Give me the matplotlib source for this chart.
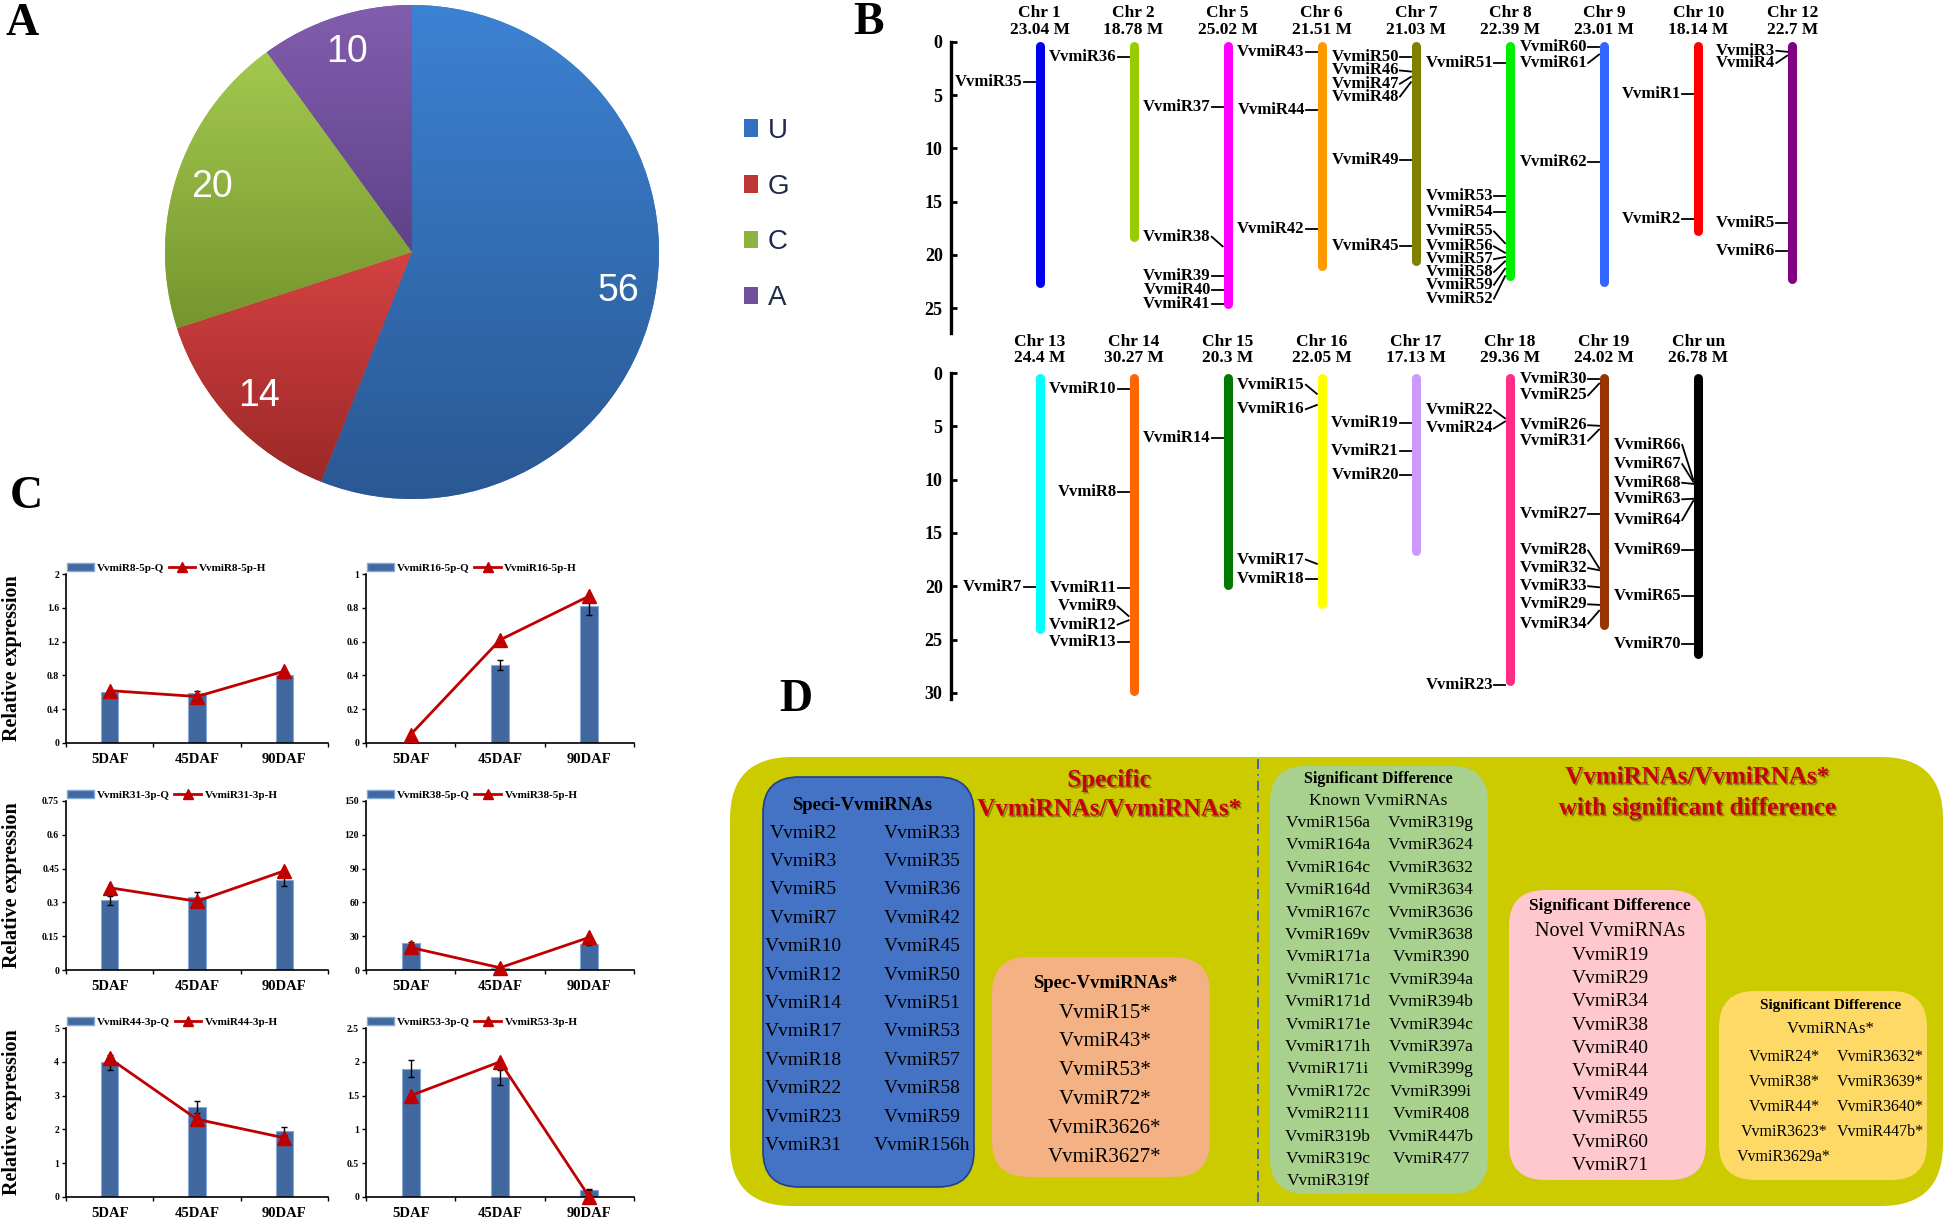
import numpy as np
import matplotlib
matplotlib.use('Agg')
import matplotlib.pyplot as plt
from matplotlib.patches import FancyBboxPatch, Patch
from matplotlib.lines import Line2D
from matplotlib.colors import to_rgb
import matplotlib.patheffects as pe

plt.rcParams['font.family'] = ['Liberation Serif', 'DejaVu Serif']

# ---------------- data: panel A ----------------
pie_labels = ['U', 'G', 'C', 'A']
pie_values = [56, 14, 20, 10]
pie_colors = ['#3470c0', '#bd3535', '#8db342', '#70509a']
pie_light = ['#3c82d3', '#d44242', '#a3c94f', '#825dae']
pie_dark = ['#2a5893', '#9c2828', '#76952e', '#5f4288']

# ---------------- data: panel B ----------------
top_chr = ['Chr 1', 'Chr 2', 'Chr 5', 'Chr 6', 'Chr 7', 'Chr 8', 'Chr 9', 'Chr 10', 'Chr 12']
top_len = [23.04, 18.78, 25.02, 21.51, 21.03, 22.39, 23.01, 18.14, 22.7]
top_col = ['#0000ee', '#99cc00', '#ff00ff', '#ff9900', '#808000', '#00ee00', '#3366ff', '#ff0000', '#800080']
bot_chr = ['Chr 13', 'Chr 14', 'Chr 15', 'Chr 16', 'Chr 17', 'Chr 18', 'Chr 19', 'Chr un']
bot_len = [24.4, 30.27, 20.3, 22.05, 17.13, 29.36, 24.02, 26.78]
bot_col = ['#00ffff', '#ff6600', '#007a00', '#ffff00', '#cc99ff', '#ff2d86', '#993300', '#000000']

top_mk_chr = [0, 1, 2, 2, 2, 2, 2, 3, 3, 3, 4, 4, 4, 4, 4, 4,
              5, 5, 5, 5, 5, 5, 5, 5, 5, 6, 6, 6, 7, 7, 8, 8, 8, 8]
top_mk_name = ['VvmiR35', 'VvmiR36', 'VvmiR37', 'VvmiR38', 'VvmiR39', 'VvmiR40', 'VvmiR41',
               'VvmiR43', 'VvmiR44', 'VvmiR42',
               'VvmiR50', 'VvmiR46', 'VvmiR47', 'VvmiR48', 'VvmiR49', 'VvmiR45',
               'VvmiR51', 'VvmiR53', 'VvmiR54', 'VvmiR55', 'VvmiR56', 'VvmiR57', 'VvmiR58', 'VvmiR59', 'VvmiR52',
               'VvmiR60', 'VvmiR61', 'VvmiR62', 'VvmiR1', 'VvmiR2', 'VvmiR3', 'VvmiR4', 'VvmiR5', 'VvmiR6']
top_mk_pos = [3.75, 1.4, 6.15, 19.2, 22.0, 23.3, 24.6,
              0.95, 6.4, 17.6,
              1.45, 2.8, 3.3, 3.8, 11.1, 19.2,
              2.0, 14.5, 16.0, 18.9, 19.8, 20.2, 20.6, 21.3, 22.0,
              0.5, 1.2, 11.3, 4.9, 16.6, 0.95, 1.3, 17.0, 19.6]
top_mk_lab = [3.75, 1.4, 6.15, 18.3, 22.0, 23.3, 24.6,
              0.95, 6.4, 17.6,
              1.45, 2.7, 3.95, 5.15, 11.1, 19.2,
              2.0, 14.5, 16.0, 17.8, 19.2, 20.4, 21.6, 22.8, 24.1,
              0.5, 2.0, 11.3, 4.9, 16.6, 0.85, 2.0, 17.0, 19.6]

bot_mk_chr = [0, 1, 1, 1, 1, 1, 1, 2, 3, 3, 3, 3, 4, 4, 4, 5, 5, 5,
              6, 6, 6, 6, 6, 6, 6, 6, 6, 6, 7, 7, 7, 7, 7, 7, 7, 7]
bot_mk_name = ['VvmiR7', 'VvmiR10', 'VvmiR8', 'VvmiR11', 'VvmiR9', 'VvmiR12', 'VvmiR13',
               'VvmiR14', 'VvmiR15', 'VvmiR16', 'VvmiR17', 'VvmiR18',
               'VvmiR19', 'VvmiR21', 'VvmiR20', 'VvmiR22', 'VvmiR24', 'VvmiR23',
               'VvmiR30', 'VvmiR25', 'VvmiR26', 'VvmiR31', 'VvmiR27', 'VvmiR28', 'VvmiR32', 'VvmiR33',
               'VvmiR29', 'VvmiR34',
               'VvmiR66', 'VvmiR67', 'VvmiR68', 'VvmiR63', 'VvmiR64', 'VvmiR69', 'VvmiR65', 'VvmiR70']
bot_mk_pos = [20.1, 1.5, 11.15, 20.2, 22.8, 23.2, 25.2,
              6.1, 1.95, 3.0, 17.9, 19.3,
              4.65, 7.3, 9.6, 4.25, 4.55, 29.3,
              0.6, 1.0, 4.95, 5.3, 13.25, 18.3, 18.5, 20.1, 21.75, 22.3,
              10.0, 10.2, 10.4, 11.8, 12.0, 16.65, 20.9, 25.45]
bot_mk_lab = [20.1, 1.5, 11.15, 20.2, 21.9, 23.6, 25.2,
              6.1, 1.1, 3.4, 17.5, 19.3,
              4.65, 7.3, 9.6, 3.5, 5.2, 29.3,
              0.6, 2.1, 4.9, 6.35, 13.25, 16.65, 18.3, 20.0, 21.7, 23.5,
              6.75, 8.55, 10.3, 11.85, 13.8, 16.65, 20.9, 25.45]

# ---------------- data: panel C ----------------
daf = ['5DAF', '45DAF', '90DAF']
c_names = ['VvmiR8-5p', 'VvmiR16-5p', 'VvmiR31-3p', 'VvmiR38-5p', 'VvmiR44-3p', 'VvmiR53-3p']
q_vals = [[0.60, 0.59, 0.80], [0.0, 0.46, 0.81], [0.31, 0.325, 0.40],
          [24.0, 1.5, 23.5], [3.98, 2.67, 1.94], [1.90, 1.77, 0.11]]
q_err = [[0.02, 0.03, 0.03], [0.0, 0.03, 0.055], [0.02, 0.02, 0.025],
         [1.0, 0.3, 1.0], [0.22, 0.18, 0.12], [0.12, 0.11, 0.01]]
h_vals = [[0.62, 0.55, 0.85], [0.05, 0.61, 0.87], [0.365, 0.305, 0.44],
          [20.0, 2.0, 29.0], [4.1, 2.3, 1.75], [1.5, 2.0, 0.0]]
c_yticks = [[0, 0.4, 0.8, 1.2, 1.6, 2], [0, 0.2, 0.4, 0.6, 0.8, 1], [0, 0.15, 0.3, 0.45, 0.6, 0.75],
            [0, 30, 60, 90, 120, 150], [0, 1, 2, 3, 4, 5], [0, 0.5, 1, 1.5, 2, 2.5]]

# ---------------- data: panel D ----------------
blue_left = ['VvmiR2', 'VvmiR3', 'VvmiR5', 'VvmiR7', 'VvmiR10', 'VvmiR12', 'VvmiR14', 'VvmiR17',
             'VvmiR18', 'VvmiR22', 'VvmiR23', 'VvmiR31']
blue_right = ['VvmiR33', 'VvmiR35', 'VvmiR36', 'VvmiR42', 'VvmiR45', 'VvmiR50', 'VvmiR51', 'VvmiR53',
              'VvmiR57', 'VvmiR58', 'VvmiR59', 'VvmiR156h']
salmon_items = ['VvmiR15*', 'VvmiR43*', 'VvmiR53*', 'VvmiR72*', 'VvmiR3626*', 'VvmiR3627*']
green_left = ['VvmiR156a', 'VvmiR164a', 'VvmiR164c', 'VvmiR164d', 'VvmiR167c', 'VvmiR169v', 'VvmiR171a',
              'VvmiR171c', 'VvmiR171d', 'VvmiR171e', 'VvmiR171h', 'VvmiR171i', 'VvmiR172c', 'VvmiR2111',
              'VvmiR319b', 'VvmiR319c', 'VvmiR319f']
green_right = ['VvmiR319g', 'VvmiR3624', 'VvmiR3632', 'VvmiR3634', 'VvmiR3636', 'VvmiR3638', 'VvmiR390',
               'VvmiR394a', 'VvmiR394b', 'VvmiR394c', 'VvmiR397a', 'VvmiR399g', 'VvmiR399i', 'VvmiR408',
               'VvmiR447b', 'VvmiR477']
pink_items = ['VvmiR19', 'VvmiR29', 'VvmiR34', 'VvmiR38', 'VvmiR40', 'VvmiR44', 'VvmiR49', 'VvmiR55',
              'VvmiR60', 'VvmiR71']
yellow_left = ['VvmiR24*', 'VvmiR38*', 'VvmiR44*', 'VvmiR3623*', 'VvmiR3629a*']
yellow_right = ['VvmiR3632*', 'VvmiR3639*', 'VvmiR3640*', 'VvmiR447b*']

# ======================================================
W, H = 1946, 1218
fig = plt.figure(figsize=(W / 100, H / 100), dpi=100)


def fax(x0, y0, x1, y1, **kw):
    return fig.add_axes([x0 / W, 1 - y1 / H, (x1 - x0) / W, (y1 - y0) / H], **kw)


# overlay axes in pixel coords (y down)
axo = fax(0, 0, W, H)
axo.set_xlim(0, W)
axo.set_ylim(H, 0)
axo.axis('off')

bold = dict(fontweight='bold')
for lab, (x, y) in zip(['A', 'B', 'C', 'D'], [(22, 24), (868, 23), (26, 497), (796, 700)]):
    axo.text(x, y, lab, ha='center', va='center', fontsize=33, **bold)

# ---------------- panel A ----------------
axp = fax(165, 5, 659, 499)
wedges, texts = axp.pie(pie_values, colors=pie_colors, startangle=90, counterclock=False,
                        labels=[str(v) for v in pie_values], labeldistance=0.85,
                        textprops=dict(color='white', fontsize=27, family=['Liberation Sans', 'DejaVu Sans']))
for t in texts:
    t.set_ha('center')
    t.set_va('center')
    t.set_zorder(5)
grad = np.linspace(0, 1, 256)[:, None, None]
for w, cl, cd in zip(wedges, pie_light, pie_dark):
    ext = w.get_path().get_extents()
    img = np.array(to_rgb(cl))[None, None, :] * (1 - grad) + np.array(to_rgb(cd))[None, None, :] * grad
    im = axp.imshow(img, extent=(ext.x0, ext.x1, ext.y0, ext.y1), origin='upper',
                    aspect='auto', zorder=2, interpolation='bilinear')
    im.set_clip_path(w)
axp.set_xlim(-1, 1)
axp.set_ylim(-1, 1)
axp.set_aspect('equal')
axp.axis('off')
fig.legend(wedges, pie_labels, loc='upper left', bbox_to_anchor=(744 / W, 1 - 118 / H),
           frameon=False, prop=dict(family=['Liberation Sans', 'DejaVu Sans'], size=20),
           labelcolor='#1e2b4a', handlelength=0.5, handleheight=0.6, handletextpad=0.35,
           labelspacing=1.07, borderpad=0, borderaxespad=0)

# ---------------- panel B ----------------
PX = 10.66  # pixels per Mb


def chrom_row(y_top, y_max, names, lens, cols, mk_chr, mk_name, mk_pos, mk_lab, t1, t2, ticks):
    ax = fax(951, y_top, W, y_top + y_max * PX)
    ax.set_xlim(0, W - 951)
    ax.set_ylim(y_max, 0)
    for s in ['top', 'right', 'bottom']:
        ax.spines[s].set_visible(False)
    ax.spines['left'].set_linewidth(2.4)
    ax.set_xticks([])
    ax.set_yticks(ticks)
    ax.set_yticklabels([str(t) for t in ticks], fontsize=13, fontweight='bold')
    ax.tick_params(axis='y', direction='in', length=4, width=2, pad=6)
    ax.patch.set_alpha(0)
    r = 4.5 / PX
    xs = [88.5 + 94.1 * i for i in range(len(names))]
    for x, n, L, c in zip(xs, names, lens, cols):
        ax.plot([x, x], [r, L - r], color=c, lw=6.5, solid_capstyle='round', clip_on=False)
        ax.text(x, t1, n, ha='center', va='center', fontsize=12.5, fontweight='bold', clip_on=False)
        ax.text(x, t2, f'{L:g} M', ha='center', va='center', fontsize=12.5, fontweight='bold', clip_on=False)
    for ci, nm, p, lb in zip(mk_chr, mk_name, mk_pos, mk_lab):
        x = xs[ci]
        ax.plot([x - 16, x - 5], [lb, p], color='black', lw=1.3, clip_on=False)
        ax.text(x - 17, lb, nm, ha='right', va='center', fontsize=12, fontweight='bold', clip_on=False)
    return ax


chrom_row(41.7, 27.3, top_chr, top_len, top_col, top_mk_chr, top_mk_name, top_mk_pos, top_mk_lab,
          -2.7, -1.1, [0, 5, 10, 15, 20, 25])
chrom_row(373, 30.6, bot_chr, bot_len, bot_col, bot_mk_chr, bot_mk_name, bot_mk_pos, bot_mk_lab,
          -2.9, -1.4, [0, 5, 10, 15, 20, 25, 30])

# ---------------- panel C ----------------
bar_c = '#41699f'
line_c = '#c00000'
col_x = [(66, 328), (366, 634)]
row_y = [574, 801, 1028]
for k in range(6):
    r, c = divmod(k, 2)
    x0, x1 = col_x[c]
    y0 = row_y[r]
    ax = fax(x0, y0, x1, y0 + 169)
    xi = np.arange(3)
    ax.bar(xi, q_vals[k], width=0.2, color=bar_c, edgecolor='#86a8d6', linewidth=0.8,
           yerr=q_err[k], error_kw=dict(ecolor='black', capsize=2, elinewidth=1, capthick=1), zorder=2)
    ax.plot(xi, h_vals[k], color=line_c, lw=2, marker='^', ms=10, mfc=line_c, mec=line_c,
            zorder=3, clip_on=False)
    ax.set_xlim(-0.5, 2.5)
    ax.set_ylim(0, c_yticks[k][-1])
    ax.set_yticks(c_yticks[k])
    ax.set_yticklabels([f'{t:g}' for t in c_yticks[k]], fontsize=7, fontweight='bold')
    ax.set_xticks(xi)
    ax.set_xticklabels(daf, fontsize=10.5, fontweight='bold')
    ax.set_xticks([-0.5, 0.5, 1.5, 2.5], minor=True)
    ax.tick_params(axis='x', which='major', length=0, pad=7)
    ax.tick_params(axis='x', which='minor', length=3, width=1, direction='out')
    ax.tick_params(axis='y', length=3, width=1, direction='out', pad=2)
    for s in ['top', 'right']:
        ax.spines[s].set_visible(False)
    for s in ['left', 'bottom']:
        ax.spines[s].set_linewidth(1.2)
    ax.patch.set_alpha(0)
    handles = [Patch(facecolor=bar_c, edgecolor='#86a8d6'),
               Line2D([], [], color=line_c, lw=2, marker='^', ms=7, mfc=line_c, mec=line_c)]
    ax.legend(handles, [f'{c_names[k]}-Q', f'{c_names[k]}-H'], loc='lower left',
              bbox_to_anchor=(0.0, 1.0), ncol=2, frameon=False,
              prop=dict(weight='bold', size=8), handlelength=2.4, handleheight=0.6,
              columnspacing=0.4, handletextpad=0.3, borderpad=0.1, borderaxespad=0.0)
    if c == 0:
        axo.text(12, y0 + 84, 'Relative expression', rotation=90, ha='center', va='center',
                 fontsize=14.5, fontweight='bold')

# ---------------- panel D ----------------
def rbox(x0, y0, x1, y1, fc, r, ec='none', lw=0, z=1):
    p = FancyBboxPatch((x0, y0), x1 - x0, y1 - y0, boxstyle=f'round,pad=0,rounding_size={r}',
                       facecolor=fc, edgecolor=ec, linewidth=lw, zorder=z)
    axo.add_patch(p)


rbox(730, 757, 1943, 1206, '#cbcb00', 62)
axo.plot([1258, 1258], [759, 1202], color='#3050d8', lw=1.2, ls=(0, (6, 3, 1, 3)), zorder=2)
rbox(763, 777, 974, 1187, '#4472c4', 36, ec='#1f3f8f', lw=1.2, z=2)
rbox(992, 957, 1210, 1177, '#f4b183', 36, z=2)
rbox(1270, 766, 1488, 1194, '#a9d18e', 36, z=2)
rbox(1509, 890, 1706, 1180, '#ffc7ce', 36, z=2)
rbox(1719, 991, 1927, 1180, '#ffd966', 36, z=2)

shadow = [pe.withSimplePatchShadow(offset=(1.2, -1.2), shadow_rgbFace='#333333', alpha=0.45)]
red_c = '#c8000a'
for txt, x, y in [('Specific', 1109, 780), ('VvmiRNAs/VvmiRNAs*', 1109, 809),
                  ('VvmiRNAs/VvmiRNAs*', 1697, 777), ('with significant difference', 1697, 808)]:
    axo.text(x, y, txt, ha='center', va='center', fontsize=18, fontweight='bold', color=red_c,
             path_effects=shadow, zorder=4)


def items(lst, x, y_start, step, size):
    for i, t in enumerate(lst):
        axo.text(x, y_start + i * step, t, ha='center', va='center', fontsize=size, zorder=4)


axo.text(862, 805, 'Speci-VvmiRNAs', ha='center', va='center', fontsize=13.5, fontweight='bold', zorder=4)
items(blue_left, 803, 833, 28.4, 14)
items(blue_right, 922, 833, 28.4, 14)

axo.text(1105, 984, 'Spec-VvmiRNAs*', ha='center', va='center', fontsize=13.5, fontweight='bold', zorder=4)
items(salmon_items, 1105, 1013, 28.8, 15)

axo.text(1378, 779, 'Significant Difference', ha='center', va='center', fontsize=11.5, fontweight='bold', zorder=4)
axo.text(1378, 801, 'Known VvmiRNAs', ha='center', va='center', fontsize=12.5, zorder=4)
items(green_left, 1328, 823, 22.4, 12.5)
items(green_right, 1431, 823, 22.4, 12.5)

axo.text(1610, 906, 'Significant Difference', ha='center', va='center', fontsize=12.5, fontweight='bold', zorder=4)
axo.text(1610, 931, 'Novel VvmiRNAs', ha='center', va='center', fontsize=14.5, zorder=4)
items(pink_items, 1610, 955, 23.4, 14)

axo.text(1831, 1006, 'Significant Difference', ha='center', va='center', fontsize=11, fontweight='bold', zorder=4)
axo.text(1831, 1029, 'VvmiRNAs*', ha='center', va='center', fontsize=12, zorder=4)
items(yellow_left, 1784, 1057, 25.0, 11.5)
items(yellow_right, 1880, 1057, 25.0, 11.5)

fig.savefig('out.png', dpi=100)
